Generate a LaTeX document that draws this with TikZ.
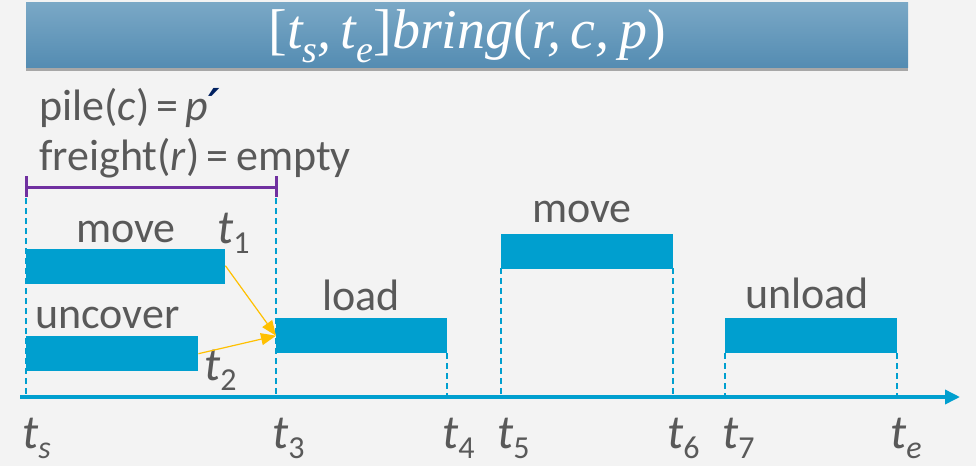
\documentclass[tikz,border=0pt]{standalone}
\usepackage{fontspec}
\setmainfont{Carlito}
\newfontfamily\ttlfont{Liberation Serif}
\newfontfamily\dvfont{DejaVu Sans}
\usetikzlibrary{arrows.meta,shadows}
\definecolor{bg}{HTML}{F3F3F3}
\definecolor{barc}{HTML}{009FCF}
\definecolor{txt}{HTML}{595959}
\definecolor{purp}{HTML}{7030A0}
\definecolor{yel}{HTML}{FFC000}
\definecolor{ttop}{HTML}{7AA8C6}
\definecolor{tbot}{HTML}{548CB2}
\definecolor{primec}{HTML}{002060}
\newcommand{\tsb}[1]{\textit{t}\raisebox{-0.22em}{\fontsize{32}{34}\selectfont #1}}
\newcommand{\ttsb}[1]{\textit{t}\raisebox{-0.25em}{\fontsize{38}{40}\selectfont\textit{#1}}}
\begin{document}
\begin{tikzpicture}[x=1pt,y=-1pt,
  bar/.style={fill=barc, draw=none, inner sep=0pt, anchor=north west},
  lbl/.style={text=txt, font=\fontsize{44}{48}\selectfont, inner sep=0pt, anchor=base west},
  tl/.style={text=txt, font=\fontsize{48}{52}\selectfont, inner sep=0pt, anchor=base west},
  dl/.style={barc, line width=2pt, dash pattern=on 6pt off 4pt},
  yarr/.style={yel, line width=1.2pt, -{Triangle[length=15pt,width=12pt]}}]
\useasboundingbox[fill=bg] (0,0) rectangle (976,466);
% title
\node[anchor=north west, minimum width=882pt, minimum height=65pt, inner sep=0pt,
      top color=ttop, bottom color=tbot, draw=none,
      drop shadow={shadow xshift=0pt, shadow yshift=-4pt, opacity=0.45, fill=black!70}] (title) at (26,2) {};
\node[text=white, font=\fontsize{56}{60}\selectfont\ttlfont, inner sep=0pt] (ttext) at ([yshift=-2pt]title.center) {[\itshape\ttsb{s},\,\ttsb{e}\upshape]\itshape bring\upshape(\itshape r,\,c,\,p\upshape)};
% conditions
\node[lbl] (c1) at (39,120) {pile(\textit{c})\,=\,\textit{p}{\color{primec}\dvfont\bfseries\itshape\char"2032}};
\node[lbl] (c2) at (39,170) {freight(\textit{r})\,=\,empty};
% bracket
\coordinate (b0) at (26,187);
\coordinate (b1) at (276,187);
\draw[purp, line width=3pt] (b0) -- (b1);
\draw[purp, line width=3pt] ([yshift=-10pt]b0) -- ([yshift=11pt]b0);
\draw[purp, line width=3pt] ([yshift=-10pt]b1) -- ([yshift=11pt]b1);
% axis
\coordinate (a0) at (20,397);
\coordinate (a1) at (960,397);
\draw[barc, line width=3.5pt, -{Triangle[length=15pt,width=14pt]}] (a0) -- (a1);
% dotted lines
\draw[dl] (26,198) -- (26,397);
\draw[dl] (276,198) -- (276,397);
\draw[dl] (447,353) -- (447,397);
\draw[dl] (501,268) -- (501,397);
\draw[dl] (673,268) -- (673,397);
\draw[dl] (725,353) -- (725,397);
\draw[dl] (897,353) -- (897,397);
% bars
\node[bar, minimum width=199pt, minimum height=35pt] (mv1) at (26,249) {};
\node[bar, minimum width=172pt, minimum height=35pt] (unc) at (26,336) {};
\node[bar, minimum width=171pt, minimum height=35pt] (ld) at (276,318) {};
\node[bar, minimum width=172pt, minimum height=35pt] (mv2) at (501,234) {};
\node[bar, minimum width=172pt, minimum height=35pt] (uld) at (725,318) {};
% labels
\node[lbl] (lmv1) at (76,242) {move};
\node[tl] (t1) at (217,243) {\tsb{1}};
\node[lbl] (lunc) at (35,328) {uncover};
\node[tl] (t2) at (204,380) {\tsb{2}};
\node[lbl] (lld) at (322,310) {load};
\node[lbl] (lmv2) at (532,222) {move};
\node[lbl] (luld) at (745,308) {unload};
% arrows
\draw[yarr] ([yshift=1pt]mv1.east) -- (ld.west);
\draw[yarr] (unc.east) -- (ld.west);
% axis labels
\node[tl] (ts) at (22,448) {\tsb{\textit{s}}};
\node[tl] (t3) at (272,448) {\tsb{3}};
\node[tl] (t4) at (442,448) {\tsb{4}};
\node[tl] (t5) at (497,448) {\tsb{5}};
\node[tl] (t6) at (667,448) {\tsb{6}};
\node[tl] (t7) at (722,448) {\tsb{7}};
\node[tl] (te) at (890,448) {\tsb{\textit{e}}};
\end{tikzpicture}
\end{document}
